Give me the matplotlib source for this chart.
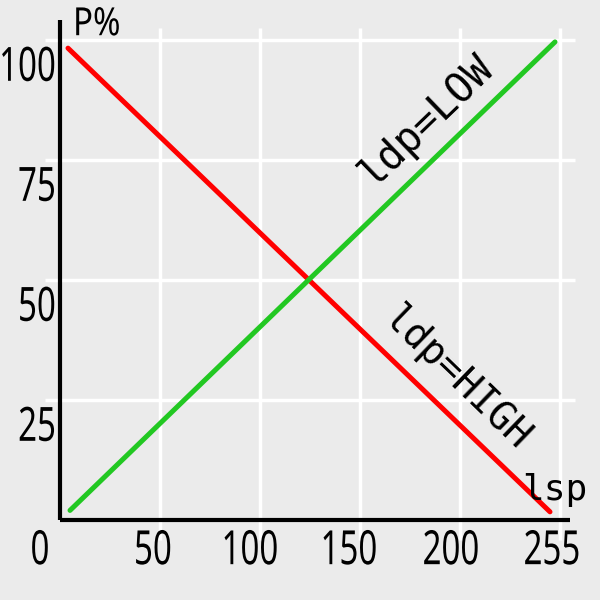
import matplotlib
matplotlib.use("Agg")
import matplotlib.pyplot as plt
from matplotlib.patheffects import AbstractPathEffect
from matplotlib.transforms import Affine2D

# ── data ─────────────────────────────────────────────────────────────────────
ldp_high_x = [4, 245]       # lsp
ldp_high_y = [98.3, 1.7]    # P%
ldp_low_x = [5, 247.5]
ldp_low_y = [2, 99.6]

x_grid = [50, 100, 150, 200, 250]
y_grid = [25, 50, 75, 100]
x_labels = ["0", "50", "100", "150", "200", "255"]
y_labels = ["25", "50", "75", "100"]

# ── look ─────────────────────────────────────────────────────────────────────
BG = "#ebebeb"
RED = "#ff0000"
GREEN = "#22c822"
SANS = ["Noto Sans", "DejaVu Sans"]
MONO = ["DejaVu Sans Mono"]


class Squeeze(AbstractPathEffect):
    """Narrow the glyphs horizontally around a fixed display x (fake condensed font)."""

    def __init__(self, sx, cx):
        super().__init__()
        self.sx = sx
        self.cx = cx

    def draw_path(self, renderer, gc, tpath, affine, rgbFace=None):
        t = affine + Affine2D().translate(-self.cx, 0).scale(self.sx, 1).translate(self.cx, 0)
        renderer.draw_path(gc, tpath, t, rgbFace)


fig = plt.figure(figsize=(6, 6), dpi=100)
fig.patch.set_facecolor(BG)
ax = fig.add_axes([0, 0, 1, 1])
ax.set_facecolor(BG)
ax.set_axis_off()
# 2 px per lsp unit, 4.8 px per P% unit, origin at pixel (60, 520)
ax.set_xlim(-30, 270)
ax.set_ylim(-80 / 4.8, 520 / 4.8)


def condensed_text(x, y, s, sx, **kw):
    cx = ax.transData.transform((x, y))[0]
    return ax.text(x, y, s, path_effects=[Squeeze(sx, cx)], **kw)


# grid (drawn past the axes, as in the sketch)
for gx in x_grid:
    ax.plot([gx, gx], [-4.2, 102.5], color="white", lw=2.5, zorder=1,
            solid_capstyle="butt")
for gy in y_grid:
    ax.plot([-7.5, 257.5], [gy, gy], color="white", lw=2.5, zorder=1,
            solid_capstyle="butt")

# axes
ax.plot([0, 0], [0, 104.2], color="black", lw=3, zorder=2, solid_capstyle="butt")
ax.plot([0, 255], [0, 0], color="black", lw=3, zorder=2, solid_capstyle="butt")

# lines
ax.plot(ldp_high_x, ldp_high_y, color=RED, lw=3.6, zorder=3, solid_capstyle="round")
ax.plot(ldp_low_x, ldp_low_y, color=GREEN, lw=3.6, zorder=3, solid_capstyle="round")

# tick labels
x_label_pos = [-10, 46.5, 95, 144.5, 195.5, 246]
for xp, lab in zip(x_label_pos, x_labels):
    condensed_text(xp, -6.6, lab, 0.7, ha="center", va="center", zorder=4,
                   family=SANS, fontsize=34)
for gy, lab in zip(y_grid, y_labels):
    condensed_text(-2, gy - 5.9, lab, 0.7, ha="right", va="center", zorder=4,
                   family=SANS, fontsize=34)

# axis titles
condensed_text(6.5, 101, "P%", 0.85, ha="left", va="baseline", family=SANS,
               fontsize=28)
ax.text(231, 4.2, "lsp", ha="left", va="baseline", family=MONO, fontsize=26)

# line labels
ax.text(183.5, 83.3, "ldp=LOW", ha="center", va="center", rotation=44,
        rotation_mode="anchor", family=MONO, fontsize=29)
ax.text(198, 29.6, "ldp=HIGH", ha="center", va="center", rotation=-44,
        rotation_mode="anchor", family=MONO, fontsize=28)

fig.savefig("out.png", facecolor=BG)
